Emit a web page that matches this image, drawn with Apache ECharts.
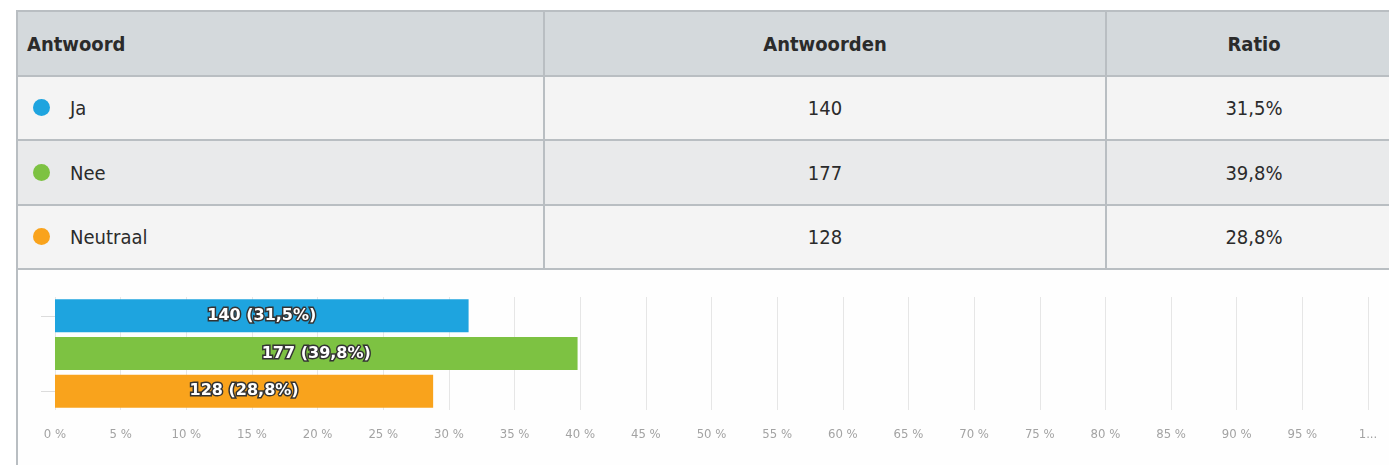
<!DOCTYPE html>
<html>
<head>
<meta charset="utf-8">
<script src="https://cdn.jsdelivr.net/npm/echarts@6/dist/echarts.min.js"></script>
<style>
    body { margin: 0; width: 1389px; height: 465px; overflow: hidden; background: #fff;
           font-family: "DejaVu Sans Condensed", "Liberation Sans Narrow", sans-serif; }
    #box { position: absolute; left: 16px; top: 10px; width: 1400px; height: 470px;
           border-left: 2px solid #b9bec2; border-top: 2px solid #b9bec2; background: #fefefe; }
    table { border-collapse: separate; border-spacing: 0; table-layout: fixed; width: 1385px; }
    td, th { box-sizing: border-box; border-bottom: 2px solid #b9bec2; border-right: 2px solid #b9bec2;
             padding: 0; color: #2b2b2b; font-size: 20px; }
    th { background: #d4d9dc; font-weight: bold; height: 65px; font-size: 20px; }
    tr.odd td { background: #f4f4f4; }
    tr.even td { background: #e9eaeb; }
    .c1 { width: 527px; text-align: left; padding-left: 9px; }
    .c2 { width: 562px; text-align: center; }
    .c3 { text-align: center; }
    .dot { display: inline-block; width: 17px; height: 17px; border-radius: 50%; vertical-align: middle;
           margin: 0 20px 0 15px; position: relative; top: -2px; }
    #chart { position: absolute; left: 18px; top: 270px; width: 1371px; height: 195px; }
</style>
</head>
<body>
<div id="box">
    <table id="tbl"></table>
</div>
<div id="chart"></div>
<script>
var columns = ['Antwoord', 'Antwoorden', 'Ratio'];
var answers = ['Ja', 'Nee', 'Neutraal'];
var counts = [140, 177, 128];
var ratios = [31.5, 39.8, 28.8];
var colors = ['#1ea4df', '#7dc242', '#f9a31c'];
var rowHeights = [64, 65, 64];

function fmt(v) {
    return v.toFixed(1).replace('.', ',') + '%';
}

// tabel
var html = '<tr><th class="c1">' + columns[0] + '</th><th class="c2">' + columns[1] +
    '</th><th class="c3">' + columns[2] + '</th></tr>';
for (var i = 0; i < answers.length; i++) {
    html += '<tr class="' + (i % 2 ? 'even' : 'odd') + '" style="height:' + rowHeights[i] + 'px">' +
        '<td class="c1" style="padding-left:0"><span class="dot" style="background:' + colors[i] + '"></span>' + answers[i] + '</td>' +
        '<td class="c2">' + counts[i] + '</td>' +
        '<td class="c3">' + fmt(ratios[i]) + '</td></tr>';
}
document.getElementById('tbl').innerHTML = html;

// grafiek
var chart = echarts.init(document.getElementById('chart'));
var data = [];
for (var i = 0; i < answers.length; i++) {
    data.push({
        value: ratios[i],
        itemStyle: { color: colors[i] },
        label: { formatter: counts[i] + ' (' + fmt(ratios[i]) + ')' }
    });
}

var option = {
    animation: false,
    textStyle: { fontFamily: '"DejaVu Sans Condensed", sans-serif' },
    grid: { left: 37, right: 21, top: 27, height: 113 },
    xAxis: {
        type: 'value',
        min: 0,
        max: 100,
        interval: 5,
        axisLine: { show: false },
        axisTick: { show: false },
        splitLine: { lineStyle: { color: '#e6e6e6' } },
        axisLabel: {
            color: '#a3a3a3',
            fontSize: 13,
            margin: 18,
            formatter: function (v) { return v === 100 ? '1...' : v + ' %'; }
        }
    },
    yAxis: {
        type: 'category',
        inverse: true,
        data: answers,
        axisLine: { show: false },
        axisLabel: { show: false },
        axisTick: { show: true, interval: 1, alignWithLabel: true, length: 14, lineStyle: { color: '#dcdcdc' } }
    },
    series: [{
        type: 'bar',
        barWidth: 33,
        data: data,
        label: {
            show: true,
            position: 'inside',
            color: '#fff',
            fontFamily: '"DejaVu Sans", sans-serif',
            fontSize: 16,
            fontWeight: 'bold',
            textBorderColor: '#333',
            textBorderWidth: 3
        }
    }]
};
chart.setOption(option);
</script>
</body>
</html>
